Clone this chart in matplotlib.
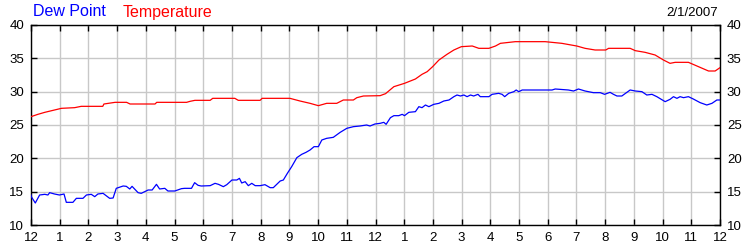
import matplotlib
matplotlib.use("Agg")
import matplotlib.pyplot as plt

plt.rcParams['font.family'] = ['Liberation Sans', 'DejaVu Sans']

# Hours since midnight and temperature values
temp_hours = [0.0, 0.24, 0.48, 0.77, 1.06, 1.52, 1.75, 2.5, 2.54, 2.93, 3.33, 3.45, 4.32, 4.38,
              5.42, 5.54, 5.71, 6.24, 6.33, 7.1, 7.22, 7.98, 8.05, 9.02, 9.37, 9.72, 10.01,
              10.3, 10.65, 10.88, 11.23, 11.35, 11.58, 12.16, 12.35, 12.64, 13.01, 13.39,
              13.62, 13.80, 13.99, 14.21, 14.49, 14.73, 14.99, 15.37, 15.6, 15.95, 16.18,
              16.35, 16.87, 17.91, 18.49, 19.01, 19.3, 19.65, 20.02, 20.12, 20.87, 21.05,
              21.39, 21.74, 22.03, 22.26, 22.44, 22.9, 23.25, 23.6, 23.83, 24.0]
temp_values = [26.25, 26.6, 26.9, 27.2, 27.5, 27.6, 27.8, 27.8, 28.15, 28.4, 28.4, 28.15, 28.15, 28.4,
               28.4, 28.55, 28.7, 28.7, 29.0, 29.0, 28.7, 28.7, 29.0, 29.0, 28.6, 28.25, 27.9,
               28.25, 28.25, 28.75, 28.75, 29.1, 29.35, 29.4, 29.7, 30.75, 31.25, 31.9,
               32.6, 33.0, 33.75, 34.75, 35.6, 36.25, 36.75, 36.85, 36.5, 36.5, 36.85,
               37.25, 37.5, 37.5, 37.25, 36.85, 36.5, 36.25, 36.25, 36.5, 36.5, 36.15,
               35.9, 35.5, 34.75, 34.25, 34.4, 34.4, 33.75, 33.1, 33.1, 33.6]

# Hours since midnight and dew point values
dew_hours = [0.0, 0.01, 0.15, 0.30, 0.48, 0.59, 0.65, 0.82, 0.99, 1.15, 1.23, 1.46, 1.58, 1.81,
             1.93, 2.10, 2.22, 2.33, 2.51, 2.74, 2.86, 2.97, 3.21, 3.32, 3.44, 3.52, 3.73,
             3.84, 4.08, 4.22, 4.37, 4.48, 4.66, 4.77, 5.01, 5.24, 5.35, 5.59, 5.70, 5.82,
             5.93, 6.24, 6.41, 6.53, 6.70, 6.82, 7.0, 7.17, 7.26, 7.34, 7.46, 7.57, 7.69,
             7.81, 7.98, 8.15, 8.33, 8.44, 8.68, 8.79, 8.93, 9.08, 9.26, 9.43, 9.58, 9.72,
             9.86, 10.01, 10.13, 10.30, 10.53, 10.77, 11.0, 11.23, 11.46, 11.69, 11.81,
             11.98, 12.16, 12.29, 12.37, 12.52, 12.64, 12.81, 12.93, 13.01, 13.16, 13.39,
             13.51, 13.62, 13.74, 13.86, 14.03, 14.21, 14.38, 14.56, 14.73, 14.84, 14.96,
             15.08, 15.19, 15.31, 15.42, 15.57, 15.65, 15.95, 16.06, 16.29, 16.41, 16.5,
             16.64, 16.82, 16.90, 16.99, 17.11, 18.15, 18.26, 18.72, 18.90, 19.07, 19.3,
             19.59, 19.83, 19.98, 20.17, 20.29, 20.41, 20.58, 20.87, 21.05, 21.28, 21.45,
             21.63, 21.80, 22.09, 22.26, 22.38, 22.5, 22.61, 22.73, 22.9, 23.07, 23.31,
             23.54, 23.72, 23.89, 24.0]
dew_values = [14.5, 14.25, 13.3, 14.5, 14.6, 14.5, 14.85, 14.65, 14.5, 14.65, 13.4, 13.4, 14.0, 14.0,
              14.5, 14.6, 14.25, 14.65, 14.75, 14.0, 14.05, 15.5, 15.85, 15.8, 15.4, 15.8, 14.85,
              14.75, 15.25, 15.25, 16.1, 15.4, 15.5, 15.1, 15.1, 15.45, 15.5, 15.5, 16.35, 15.95,
              15.85, 15.9, 16.25, 16.1, 15.75, 16.05, 16.75, 16.75, 17.0, 16.3, 16.5, 15.9, 16.25,
              15.9, 15.9, 16.05, 15.6, 15.6, 16.6, 16.75, 17.75, 18.75, 20.1, 20.6, 20.9, 21.25,
              21.75, 21.75, 22.75, 23.0, 23.15, 23.9, 24.5, 24.75, 24.85, 25.0, 24.85,
              25.15, 25.25, 25.4, 25.1, 26.1, 26.4, 26.4, 26.6, 26.4, 26.9, 27.0,
              27.75, 27.6, 28.0, 27.75, 28.1, 28.25, 28.6, 28.75, 29.25, 29.5, 29.35,
              29.5, 29.25, 29.5, 29.35, 29.6, 29.25, 29.25, 29.6, 29.75, 29.6, 29.25,
              29.75, 30.0, 30.25, 30.0, 30.25, 30.25, 30.4, 30.25, 30.1, 30.4, 30.1,
              29.85, 29.85, 29.6, 29.9, 29.6, 29.35, 29.35, 30.25, 30.1, 30.0, 29.5,
              29.6, 29.25, 28.5, 28.85, 29.25, 29.0, 29.25, 29.1, 29.25, 28.9, 28.35,
              28.0, 28.25, 28.75, 28.75]

hour_ticks = list(range(25))
hour_labels = ['12', '1', '2', '3', '4', '5', '6', '7', '8', '9', '10', '11',
               '12', '1', '2', '3', '4', '5', '6', '7', '8', '9', '10', '11', '12']
y_ticks = [10, 15, 20, 25, 30, 35, 40]
date_label = '2/1/2007'

fig = plt.figure(figsize=(7.5, 2.5), dpi=100)
ax = fig.add_axes([31 / 750, 25 / 250, 689 / 750, 200 / 250])

ax.plot(dew_hours, dew_values, color='#0000ff', lw=0.9, zorder=3)
ax.plot(temp_hours, temp_values, color='#ff0000', lw=0.9, zorder=3)

ax.set_xlim(0, 24)
ax.set_ylim(10, 40)
ax.set_xticks(hour_ticks)
ax.set_xticklabels(hour_labels)
ax.set_yticks(y_ticks)
ax.grid(True, color='#c8c8c8', lw=1.0, zorder=0)
ax.set_axisbelow(True)

ax.tick_params(axis='both', direction='in', length=4, width=1, color='black',
               labelsize=9.5, labelcolor='#000000', top=True, right=True,
               labelright=True, labelleft=True)
ax.tick_params(axis='x', pad=5)
ax.tick_params(axis='y', pad=5)
for s in ax.spines.values():
    s.set_color('black')
    s.set_linewidth(1)

fig.text(33 / 750, 1 - 12 / 250, 'Dew Point', color='#0000ff', fontsize=11.5,
         ha='left', va='center')
fig.text(123 / 750, 1 - 12 / 250, 'Temperature', color='#ff0000', fontsize=11.5,
         ha='left', va='center')
fig.text(718 / 750, 1 - 13 / 250, date_label, color='#000000', fontsize=9.5,
         ha='right', va='center')

fig.savefig('out.png', dpi=100)
